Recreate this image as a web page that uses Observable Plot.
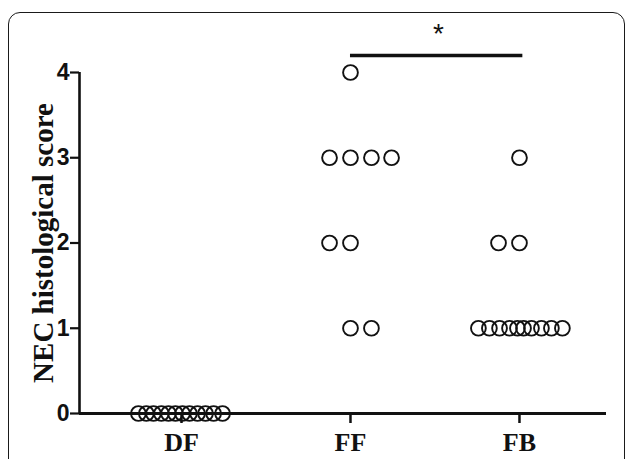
<!DOCTYPE html>
<html>
<head>
<meta charset="utf-8">
<script src="https://cdn.jsdelivr.net/npm/d3@7"></script>
<script src="https://cdn.jsdelivr.net/npm/@observablehq/plot@0.6"></script>
<style>
  html, body { margin: 0; padding: 0; background: #fff; overflow: hidden; }
  #wrap { position: relative; width: 630px; height: 459px; overflow: hidden; }
  #border { position: absolute; left: 8px; top: 12px; width: 617px; height: 470px;
            border: 1.6px solid #1a1a1a; border-radius: 12px; box-sizing: border-box; pointer-events: none; }
  #chart { position: absolute; left: 0; top: 0; }
</style>
</head>
<body>
<div id="wrap"><div id="chart"></div><div id="border"></div></div>
<script>
// Categories
const categories = ["DF", "FF", "FB"];
// Scores per group
const dfScores = [0, 0, 0, 0, 0, 0, 0, 0, 0, 0, 0, 0];
const ffScores = [4, 3, 3, 3, 3, 2, 2, 1, 1];
const fbScores = [3, 2, 2, 1, 1, 1, 1, 1, 1, 1, 1, 1, 1];
// Horizontal scatter offsets of each dot within its group (category units)
const dfOffsets = [-0.255, -0.208, -0.166, -0.119, -0.077, -0.036, 0.006, 0.047, 0.095, 0.142, 0.19, 0.243];
const ffOffsets = [0, -0.124, 0, 0.124, 0.243, -0.124, 0, 0, 0.124];
const fbOffsets = [0, -0.124, 0, -0.243, -0.178, -0.118, -0.059, -0.012, 0.024, 0.071, 0.130, 0.189, 0.254];
// Significance comparison
const sigPair = ["FF", "FB"];
const sigLabel = "*";
const yTicks = [0, 1, 2, 3, 4];
const yLabel = "NEC histological score";

const data = [];
[[dfScores, dfOffsets], [ffScores, ffOffsets], [fbScores, fbOffsets]].forEach(([s, o], gi) => {
  s.forEach((v, i) => data.push({group: categories[gi], gi, score: v, off: o[i]}));
});

const xMin = -0.6036, xMax = 2.515;
const serif = "'Liberation Serif', 'Times New Roman', serif";
const sans = "'Liberation Sans', Arial, sans-serif";

const chart = Plot.plot({
  width: 630,
  height: 459,
  marginLeft: 79,
  marginRight: 24,
  marginTop: 72,
  marginBottom: 46,
  x: {domain: [xMin, xMax], axis: null},
  y: {domain: [0, 4], axis: null},
  style: {background: "transparent", color: "#111"},
  marks: [
    Plot.axisY({ticks: yTicks, tickSize: 9, tickPadding: 1, strokeWidth: 2.2, fontSize: 23, fontWeight: "bold", fontFamily: sans, label: null, tickFormat: d3.format("d")}),
    Plot.axisX({ticks: [0, 1, 2], tickFormat: i => categories[i], tickSize: 10, tickPadding: 9, strokeWidth: 2.5, fontSize: 26, fontWeight: "bold", fontFamily: serif, label: null}),
    Plot.ruleX([xMin], {y1: 0, y2: 4, strokeWidth: 2.6, stroke: "#111"}),
    Plot.ruleY([0], {strokeWidth: 3, stroke: "#111"}),
    Plot.text([yLabel], {frameAnchor: "left", textAnchor: "middle", rotate: -90, dx: -36, fontSize: 29, fontWeight: "bold", fontFamily: serif, fill: "#111"}),
    Plot.dot(data, {x: d => d.gi + d.off, y: "score", r: 7.4, stroke: "#111", strokeWidth: 1.9, fill: "none"}),
    Plot.ruleY([4.2], {x1: categories.indexOf(sigPair[0]), x2: categories.indexOf(sigPair[1]) + 0.02, strokeWidth: 3.5, stroke: "#111"}),
    Plot.text([sigLabel], {x: 1.52, y: 4.45, fontSize: 28, fontFamily: sans, fill: "#111"})
  ]
});
document.getElementById("chart").appendChild(chart);
</script>
</body>
</html>
